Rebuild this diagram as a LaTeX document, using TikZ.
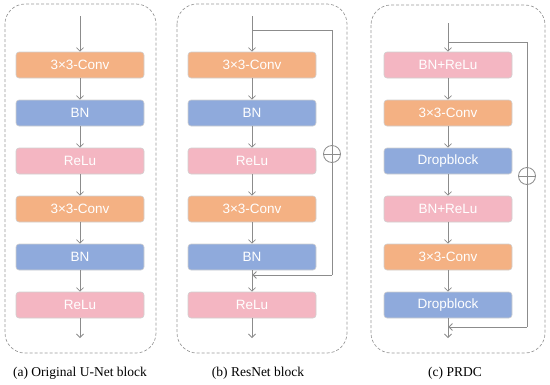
\documentclass[tikz,border=0pt]{standalone}
\usepackage{fontspec}
\setmainfont{Liberation Serif}
\newfontfamily\boxfont{Liberation Sans}
\usetikzlibrary{arrows.meta}
\definecolor{convc}{HTML}{F4B183}
\definecolor{bnc}{HTML}{8FAADC}
\definecolor{reluc}{HTML}{F4B6C2}
\definecolor{linec}{HTML}{8C8C8C}
\definecolor{dashc}{HTML}{9A9A9A}
\definecolor{edgec}{HTML}{D0D0D0}
\tikzset{
  blk/.style={draw=edgec, line width=0.6pt, rounded corners=3pt, minimum width=128pt, minimum height=26pt,
    inner sep=0pt, text=white, font=\boxfont\fontsize{13.5}{16}\selectfont},
  convb/.style={blk, fill=convc},
  bnb/.style={blk, fill=bnc},
  relub/.style={blk, fill=reluc},
  arr/.style={draw=linec, line width=0.8pt, -{Straight Barb[length=3.5pt,width=7pt]}},
  skipline/.style={draw=linec, line width=0.8pt},
  panel/.style={draw=dashc, line width=0.7pt, dash pattern=on 3pt off 2pt, rounded corners=20pt},
  plusc/.style={circle, draw=linec, line width=0.8pt, fill=white, minimum size=17pt, inner sep=0pt},
  captext/.style={font=\fontsize{13.5}{16}\selectfont, text=black}
}
\begin{document}
\begin{tikzpicture}[x=1pt,y=-1pt]
\useasboundingbox (0,0) rectangle (550,384);
% panels
\draw[panel] (5,4) rectangle (156,353);
\draw[panel] (177,4) rectangle (347,353);
\draw[panel] (371,5) rectangle (545,353);

% (a)
\node[convb] (a1) at (80,65) {3×3-Conv};
\node[bnb]   (a2) at (80,113) {BN};
\node[relub] (a3) at (80,161) {ReLu};
\node[convb] (a4) at (80,209) {3×3-Conv};
\node[bnb]   (a5) at (80,257) {BN};
\node[relub] (a6) at (80,305) {ReLu};
\coordinate (ain) at (80,16);
\coordinate (aout) at (80,338);
\draw[arr] (ain) -- (a1);
\draw[arr] (a1) -- (a2);
\draw[arr] (a2) -- (a3);
\draw[arr] (a3) -- (a4);
\draw[arr] (a4) -- (a5);
\draw[arr] (a5) -- (a6);
\draw[arr] (a6) -- (aout);
\node[captext] (acap) at (80,373) {(a) Original U-Net block};

% (b)
\node[convb] (b1) at (252,65) {3×3-Conv};
\node[bnb]   (b2) at (252,113) {BN};
\node[relub] (b3) at (252,161) {ReLu};
\node[convb] (b4) at (252,209) {3×3-Conv};
\node[bnb]   (b5) at (252,257) {BN};
\node[relub] (b6) at (252,305) {ReLu};
\coordinate (bin) at (252,16);
\coordinate (bout) at (252,338);
\coordinate (bs) at (252,30);
\coordinate (bc) at (332,30);
\coordinate (bd) at (332,275);
\coordinate (bj) at (252.4,275);
\draw[arr] (bin) -- (b1);
\draw[arr] (b1) -- (b2);
\draw[arr] (b2) -- (b3);
\draw[arr] (b3) -- (b4);
\draw[arr] (b4) -- (b5);
\draw[arr] (b5) -- (b6);
\draw[arr] (b6) -- (bout);
\draw[skipline] (bs) -- (bc) -- (bd);
\draw[arr] (bd) -- (bj);
\node[plusc] (bplus) at (332,154) {};
\draw[skipline] (bplus.north) -- (bplus.south) (bplus.west) -- (bplus.east);
\node[captext] (bcap) at (258,373) {(b) ResNet block};

% (c)
\node[relub] (c1) at (448,65) {BN+ReLu};
\node[convb] (c2) at (448,113) {3×3-Conv};
\node[bnb]   (c3) at (448,161) {Dropblock};
\node[relub] (c4) at (448,209) {BN+ReLu};
\node[convb] (c5) at (448,257) {3×3-Conv};
\node[bnb]   (c6) at (448,305) {Dropblock};
\coordinate (cin) at (448,23);
\coordinate (cout) at (448,338);
\coordinate (cs) at (448,42);
\coordinate (cc) at (527,42);
\coordinate (cd) at (527,327);
\coordinate (cj) at (448.4,327);
\draw[arr] (cin) -- (c1);
\draw[arr] (c1) -- (c2);
\draw[arr] (c2) -- (c3);
\draw[arr] (c3) -- (c4);
\draw[arr] (c4) -- (c5);
\draw[arr] (c5) -- (c6);
\draw[arr] (c6) -- (cout);
\draw[skipline] (cs) -- (cc) -- (cd);
\draw[arr] (cd) -- (cj);
\node[plusc] (cplus) at (527,176) {};
\draw[skipline] (cplus.north) -- (cplus.south) (cplus.west) -- (cplus.east);
\node[captext] (ccap) at (455,373) {(c) PRDC};
\end{tikzpicture}
\end{document}
